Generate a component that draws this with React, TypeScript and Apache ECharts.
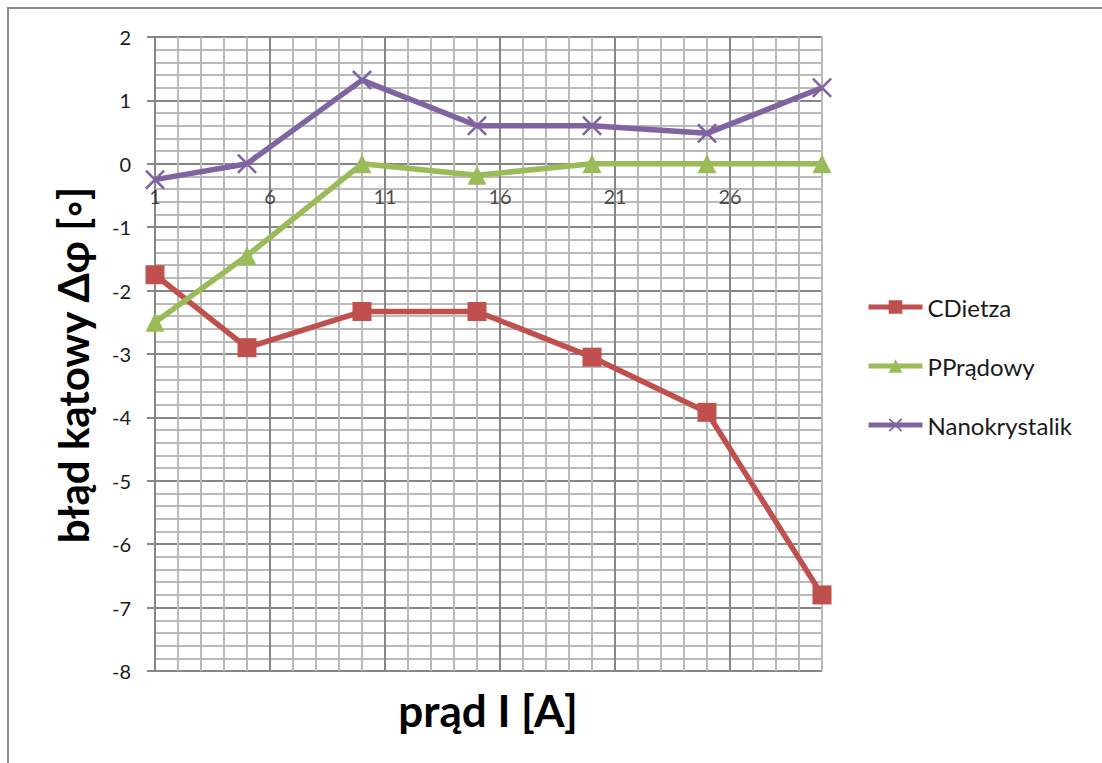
import React, { useEffect, useRef } from "react";
import * as echarts from "echarts";

const currents = [1, 5, 10, 15, 20, 25, 30];
const cDietza = [-1.75, -2.9, -2.33, -2.33, -3.05, -3.92, -6.8];
const pPradowy = [-2.5, -1.45, 0, -0.18, 0, 0, 0];
const nanokrystalik = [-0.25, 0, 1.32, 0.6, 0.6, 0.48, 1.2];
const seriesNames = ["CDietza", "PPrądowy", "Nanokrystalik"];
const xTickLabels = ["1", "6", "11", "16", "21", "26"];
const yTickLabels = ["-8", "-7", "-6", "-5", "-4", "-3", "-2", "-1", "0", "1", "2"];
const xTitle = "prąd I [A]";
const yTitle = "błąd kątowy Δφ [◦]";

const FONT = "Lato, 'Open Sans', 'DejaVu Sans', sans-serif";
const DARK = "#868686";
const LIGHT = "#bababa";
const CROSS = "path://M0,0.9 L0.9,0 L10,9.1 L9.1,10 Z M9.1,0 L10,0.9 L0.9,10 L0,9.1 Z";

export default function App() {
  const ref = useRef<HTMLDivElement>(null);
  useEffect(() => {
    if (!ref.current) return;
    const chart = echarts.init(ref.current, null, { renderer: "svg" });
    const pairs = (vals: number[]) => currents.map((x, i) => [x, vals[i]]);
    chart.setOption({
      animation: false,
      backgroundColor: "#ffffff",
      textStyle: { fontFamily: FONT },
      grid: { left: 146, top: 28, width: 667, height: 634, containLabel: false, outerBoundsMode: "none" },
      title: {
        text: xTitle,
        left: 479,
        top: 677,
        textAlign: "center",
        padding: 0,
        textStyle: { fontFamily: FONT, fontSize: 44, fontWeight: "bold", color: "#000000", lineHeight: 48 },
      },
      legend: {
        orient: "vertical",
        left: 852,
        top: 281,
        itemWidth: 54,
        itemHeight: 17,
        itemGap: 35,
        lineStyle: { width: 5 },
        textStyle: { fontFamily: FONT, fontSize: 24, color: "#1a1a1a", lineHeight: 24 },
        data: seriesNames,
      },
      xAxis: {
        type: "value",
        min: 1,
        max: 30,
        interval: 1,
        position: "bottom",
        axisLine: { show: false },
        axisTick: { show: false },
        axisLabel: { show: false },
        splitLine: {
          show: true,
          lineStyle: { color: [DARK, LIGHT, LIGHT, LIGHT, LIGHT], width: 2 },
        },
      },
      yAxis: {
        type: "value",
        min: -8,
        max: 2,
        interval: 1,
        axisLine: { show: true, onZero: false, lineStyle: { color: DARK, width: 2 } },
        axisTick: { show: true, length: 8, lineStyle: { color: DARK, width: 2 } },
        axisLabel: {
          margin: 24,
          fontSize: 20,
          fontFamily: FONT,
          color: "#1a1a1a",
          formatter: (v: number) => {
            const s = String(Math.round(v));
            return yTickLabels.includes(s) ? s : "";
          },
        },
        splitLine: { show: true, lineStyle: { color: DARK, width: 2 } },
        minorTick: { show: false, splitNumber: 5 },
        minorSplitLine: { show: true, lineStyle: { color: LIGHT, width: 2 } },
        name: yTitle,
        nameLocation: "middle",
        nameGap: 61,
        nameTextStyle: {
          fontFamily: FONT,
          fontSize: 42,
          fontWeight: "bold",
          color: "#000000",
          padding: [0, 22, 0, 0],
        },
      },
      series: [
        {
          name: "xTickLabels",
          type: "scatter",
          data: xTickLabels.map((s) => [Number(s), 0]),
          symbolSize: 1,
          itemStyle: { color: "transparent" },
          silent: true,
          z: 1,
          label: {
            show: true,
            position: "bottom",
            distance: 22,
            fontFamily: FONT,
            fontSize: 20,
            color: "#1a1a1a",
            textBorderWidth: 0,
            textBorderColor: "transparent",
            backgroundColor: "transparent",
            formatter: (p: any) => xTickLabels[p.dataIndex],
          },
        },
        {
          name: seriesNames[0],
          type: "line",
          data: pairs(cDietza),
          symbol: "rect",
          symbolSize: 19,
          lineStyle: { color: "#c0504d", width: 5.5 },
          itemStyle: { color: "#c0504d" },
          z: 3,
        },
        {
          name: seriesNames[1],
          type: "line",
          data: pairs(pPradowy),
          symbol: "triangle",
          symbolSize: 19,
          lineStyle: { color: "#9bbb59", width: 5.5 },
          itemStyle: { color: "#9bbb59" },
          z: 3,
        },
        {
          name: seriesNames[2],
          type: "line",
          data: pairs(nanokrystalik),
          symbol: CROSS,
          symbolSize: 20,
          lineStyle: { color: "#8064a2", width: 5.5 },
          itemStyle: { color: "#8064a2" },
          z: 3,
        },
      ],
    });
    return () => chart.dispose();
  }, []);
  return (
    <div
      style={{
        position: "absolute",
        left: 7,
        top: 7,
        width: 1095,
        height: 756,
        borderTop: "2px solid #898989",
        borderLeft: "2px solid #898989",
        boxSizing: "border-box",
        background: "#ffffff",
      }}
    >
      <div ref={ref} style={{ position: "absolute", left: 0, top: 0, width: 1093, height: 754 }} />
    </div>
  );
}
